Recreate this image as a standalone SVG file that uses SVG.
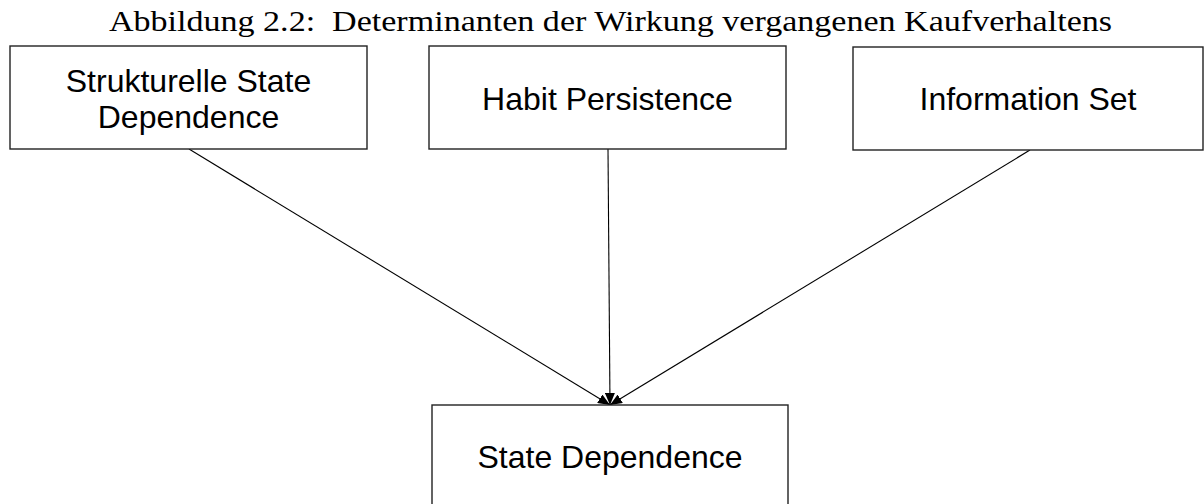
<svg xmlns="http://www.w3.org/2000/svg" width="1204" height="504" viewBox="0 0 1204 504">
<defs>
<style>
.box{fill:#fff;stroke:#222;stroke-width:1.4}
.lbl{font-family:"Liberation Sans",Arial,sans-serif;font-size:32px;fill:#000;text-anchor:middle}
.title{font-family:"Liberation Serif","Times New Roman",serif;font-size:29px;fill:#000}
.conn{stroke:#000;stroke-width:1.1;fill:none;marker-end:url(#ah)}
</style>
<marker id="ah" viewBox="0 0 12 10" refX="12" refY="5" markerWidth="12" markerHeight="10" markerUnits="userSpaceOnUse" orient="auto">
<path d="M0,0 L12,5 L0,10 z" fill="#000"/>
</marker>
</defs>
<rect width="1204" height="504" fill="#fff"/>
<text class="title" x="109" y="31" textLength="1003" lengthAdjust="spacingAndGlyphs" xml:space="preserve">Abbildung 2.2:  Determinanten der Wirkung vergangenen Kaufverhaltens</text>
<g id="connectors">
<line class="conn" x1="189" y1="149" x2="610" y2="405"/>
<line class="conn" x1="608" y1="149" x2="610" y2="405"/>
<line class="conn" x1="1030" y1="150" x2="610" y2="405"/>
</g>
<g id="n1">
<rect class="box" x="10" y="46" width="357" height="103"/>
<text class="lbl" x="188.5" y="92">Strukturelle State</text>
<text class="lbl" x="188.5" y="128">Dependence</text>
</g>
<g id="n2">
<rect class="box" x="429" y="46" width="357" height="103"/>
<text class="lbl" x="607.5" y="110">Habit Persistence</text>
</g>
<g id="n3">
<rect class="box" x="853" y="47" width="350" height="103"/>
<text class="lbl" x="1028" y="110">Information Set</text>
</g>
<g id="n4">
<rect class="box" x="432" y="405" width="356" height="103"/>
<text class="lbl" x="610" y="468">State Dependence</text>
</g>
</svg>
